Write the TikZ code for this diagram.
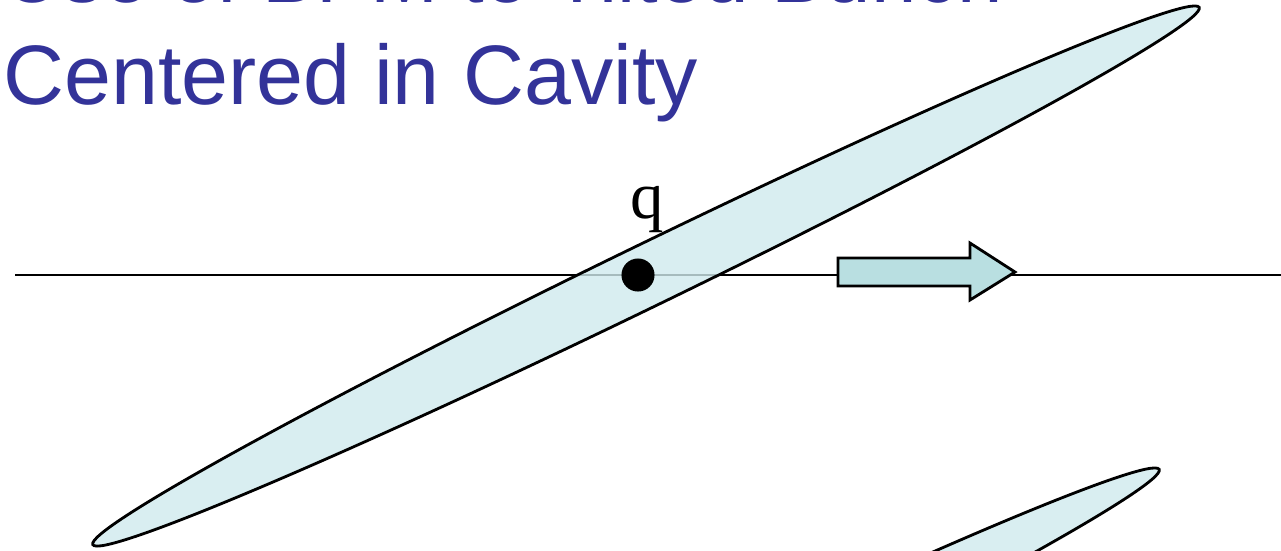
\documentclass[tikz,border=0pt]{standalone}
\usepackage{fontspec}
\setmainfont{Liberation Sans}
\newfontfamily\qfont{Liberation Serif}
\definecolor{titleblue}{RGB}{51,51,153}
\definecolor{bunchfill}{RGB}{208,234,237}
\definecolor{arrowfill}{RGB}{185,223,225}
\tikzset{
    bunch/.style={draw=black, thick, fill=bunchfill, fill opacity=0.8},
    titletext/.style={text=titleblue, font=\fontsize{24}{28}\selectfont, inner sep=0, anchor=base west}
}
\begin{document}
\begin{tikzpicture}[x=0.01cm,y=-0.01cm]
    \useasboundingbox (0,0) rectangle (1281,550);
    \clip (0,0) rectangle (1281,550);
    % title, top line cut off by the frame
    \node[titletext, font=\fontsize{23.2}{28}\selectfont] (titletop) at (3,2) {Use of BPM to Tilted Bunch};
    \node[titletext] (titlemain) at (3,104) {Centered in Cavity};
    % beam axis
    \coordinate (axisstart) at (15,275);
    \coordinate (axisend) at (1281,275);
    \draw[thick] (axisstart) -- (axisend);
    % tilted bunches
    \draw[bunch, rotate around={25.9:(646,276)}] (646,276) ellipse [x radius=615, y radius=31];
    \draw[bunch, rotate around={25.9:(606,738)}] (606,738) ellipse [x radius=615, y radius=31];
    % charge at the centre
    \node[circle, fill=black, inner sep=0, minimum size=9.4pt] (charge) at (638,275) {};
    \node[font=\qfont\fontsize{19}{22}\selectfont, inner sep=0, anchor=base] (qlabel) at (647,218) {q};
    % direction of motion
    \draw[thick, fill=arrowfill] (838,258) -- (970,258) -- (970,243) -- (1015,272)
        -- (970,300) -- (970,286) -- (838,286) -- cycle;
\end{tikzpicture}
\end{document}
